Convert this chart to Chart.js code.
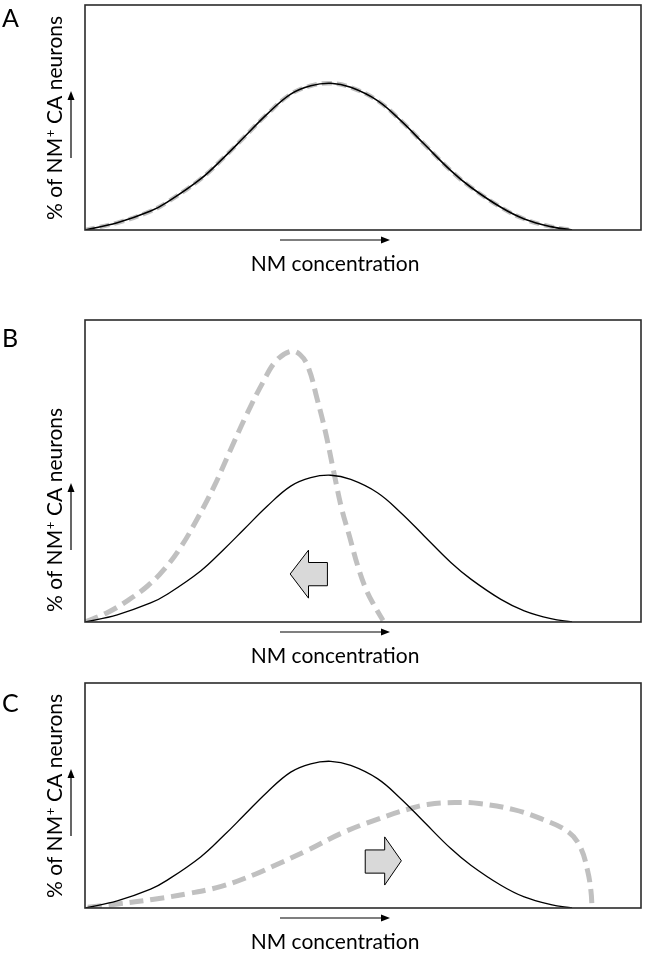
<!DOCTYPE html>
<html>
<head>
<meta charset="utf-8">
<script src="https://cdn.jsdelivr.net/npm/chart.js@4.4.1/dist/chart.umd.min.js"></script>
<style>
  body { margin: 0; background: #fff; }
  canvas { position: absolute; left: 0; }
</style>
</head>
<body>
<canvas id="panelA" width="646" height="290" style="top:0px"></canvas>
<canvas id="panelB" width="646" height="380" style="top:290px"></canvas>
<canvas id="panelC" width="646" height="285" style="top:670px"></canvas>
<script>
// x = NM concentration (0-100 across the box), y = % of neurons (0-100 of box height)

// normal distribution (solid black), panels A and C
const controlX = [0, 5.8, 11.8, 14.8, 20.8, 25.0, 28.6, 32.8, 37.0, 40.6, 44.2, 47.8, 52.6, 56.8, 61.0, 65.8, 69.4, 74.8, 79.0, 83.8, 87.6];
const controlA = [0, 3.2, 8.4, 12.4, 22.7, 32.3, 41.2, 51.6, 60.4, 64.1, 65.2, 63.4, 57.5, 48.6, 38.2, 26.4, 19.0, 10.1, 4.9, 1.5, 0];
const controlB = [0, 2.4, 6.3, 9.2, 16.9, 24.1, 30.7, 38.4, 45.0, 47.8, 48.6, 47.2, 42.8, 36.2, 28.5, 19.7, 14.2, 7.5, 3.7, 1.1, 0];
const controlC = [0, 3.2, 8.4, 12.4, 22.7, 32.3, 41.2, 51.6, 60.4, 64.1, 65.2, 63.4, 57.5, 48.6, 38.2, 26.4, 19.0, 10.1, 4.9, 1.5, 0];

// dashed grey curves
const shiftedAX = controlX;
const shiftedA = controlA;
const shiftedBX = [0, 3.9, 7.6, 11.3, 14.3, 17.3, 20.2, 23.2, 26.1, 29.1, 32.1, 34.3, 36.9, 38.7, 40.2, 41.7, 43.2, 44.7, 46.1, 47.6, 49.1, 50.6, 52.1, 53.6];
const shiftedB = [0, 3.0, 7.0, 12.0, 17.6, 25.0, 34.2, 44.8, 56.7, 68.8, 79.7, 86.3, 89.6, 88.5, 84.1, 74.2, 63.3, 50.1, 38.0, 28.2, 18.3, 10.6, 5.2, 0.5];
const shiftedCX = [0.5, 5.9, 12.1, 18.3, 24.5, 30.6, 33.7, 39.9, 46.1, 52.3, 58.5, 61.6, 66.5, 70.9, 77.1, 82.0, 87.0, 89.1, 90.4, 91.0, 91.2];
const shiftedC = [0.3, 1.8, 3.8, 6.3, 9.6, 15.0, 18.4, 25.5, 33.2, 39.2, 44.2, 46.0, 46.9, 46.4, 43.7, 39.7, 33.7, 27.0, 16.5, 7.5, 0];

const xTitle = 'NM concentration';
const FONT = 'Lato, "Open Sans", sans-serif';

function toPoints(xs, ys) {
    return xs.map((x, i) => ({ x: x, y: ys[i] }));
}

// thin arrow with a small filled head
function thinArrow(ctx, x1, y1, x2, y2) {
    const ang = Math.atan2(y2 - y1, x2 - x1);
    const len = 9, half = 3.5;
    ctx.beginPath();
    ctx.moveTo(x1, y1);
    ctx.lineTo(x2 - len * Math.cos(ang), y2 - len * Math.sin(ang));
    ctx.lineWidth = 1.2;
    ctx.strokeStyle = '#000';
    ctx.stroke();
    ctx.beginPath();
    ctx.moveTo(x2, y2);
    ctx.lineTo(x2 - len * Math.cos(ang) + half * Math.sin(ang), y2 - len * Math.sin(ang) - half * Math.cos(ang));
    ctx.lineTo(x2 - len * Math.cos(ang) - half * Math.sin(ang), y2 - len * Math.sin(ang) + half * Math.cos(ang));
    ctx.closePath();
    ctx.fillStyle = '#000';
    ctx.fill();
}

const decor = {
    id: 'decor',
    afterDraw(chart, args, opts) {
        const { ctx, chartArea: a, scales: { x, y } } = chart;
        ctx.save();

        // block arrow showing the shift
        if (opts.shift) {
            const s = opts.shift;
            const px = v => x.getPixelForValue(v);
            const py = v => y.getPixelForValue(v);
            ctx.beginPath();
            ctx.moveTo(px(s.tip), py(s.mid));
            ctx.lineTo(px(s.head), py(s.headTop));
            ctx.lineTo(px(s.head), py(s.shaftTop));
            ctx.lineTo(px(s.tail), py(s.shaftTop));
            ctx.lineTo(px(s.tail), py(s.shaftBottom));
            ctx.lineTo(px(s.head), py(s.shaftBottom));
            ctx.lineTo(px(s.head), py(s.headBottom));
            ctx.closePath();
            ctx.fillStyle = '#d9d9d9';
            ctx.fill();
            ctx.lineWidth = 1;
            ctx.strokeStyle = '#000';
            ctx.stroke();
        }

        // frame
        ctx.lineWidth = 1.6;
        ctx.strokeStyle = '#2b2b2b';
        ctx.strokeRect(a.left, a.top, a.right - a.left, a.bottom - a.top);

        // axis arrows
        thinArrow(ctx, 280, a.bottom + 10, 390, a.bottom + 10);
        thinArrow(ctx, 71, a.bottom - 72, 71, a.bottom - 139);

        // x title
        ctx.fillStyle = '#000';
        ctx.font = '21px ' + FONT;
        ctx.textAlign = 'center';
        ctx.textBaseline = 'alphabetic';
        ctx.fillText(xTitle, 335, a.bottom + 41);

        // y title, rotated, with superscript +
        ctx.save();
        ctx.translate(62, a.bottom - 10);
        ctx.rotate(-Math.PI / 2);
        ctx.textAlign = 'left';
        let cx = 0;
        ctx.fillText('% of NM', cx, 0);
        cx += ctx.measureText('% of NM').width;
        ctx.font = '13px ' + FONT;
        ctx.fillText('+', cx + 0.5, -7);
        cx += ctx.measureText('+').width + 1;
        ctx.font = '21px ' + FONT;
        ctx.fillText(' CA neurons', cx, 0);
        ctx.restore();

        // panel letter
        ctx.font = '25px ' + FONT;
        ctx.textAlign = 'left';
        ctx.fillText(opts.letter, 2, a.top + opts.letterY);
        ctx.restore();
    }
};

function makePanel(id, p) {
    const ctx = document.getElementById(id).getContext('2d');
    return new Chart(ctx, {
        type: 'line',
        data: {
            datasets: [{
                label: 'control',
                data: toPoints(controlX, p.control),
                borderColor: '#000',
                borderWidth: p.blackWidth,
                order: 0
            }, {
                label: 'shifted',
                data: toPoints(p.shiftedX, p.shifted),
                borderColor: '#c0c0c0',
                borderWidth: p.greyWidth,
                borderDash: p.dash,
                order: 1
            }]
        },
        options: {
            responsive: false,
            animation: false,
            layout: { padding: p.padding },
            elements: {
                point: { radius: 0 },
                line: { tension: 0.4, fill: false }
            },
            scales: {
                x: { type: 'linear', min: 0, max: 100, display: false },
                y: { min: 0, max: 100, display: false }
            },
            plugins: {
                legend: { display: false },
                tooltip: { enabled: false },
                decor: { letter: p.letter, letterY: p.letterY, shift: p.shift }
            }
        },
        plugins: [decor]
    });
}

makePanel('panelA', {
    letter: 'A', letterY: 22,
    padding: { left: 85, top: 5, right: 5, bottom: 60 },
    control: controlA, shiftedX: shiftedAX, shifted: shiftedA,
    blackWidth: 1.6, greyWidth: 4.5, dash: [10, 5]
});

makePanel('panelB', {
    letter: 'B', letterY: 27,
    padding: { left: 85, top: 30, right: 5, bottom: 48 },
    control: controlB, shiftedX: shiftedBX, shifted: shiftedB,
    blackWidth: 1.3, greyWidth: 5, dash: [14, 7],
    shift: { tip: 36.9, head: 40.2, tail: 43.6, mid: 15.9, headTop: 23.8, headBottom: 7.9, shaftTop: 19.7, shaftBottom: 12.0 }
});

makePanel('panelC', {
    letter: 'C', letterY: 29,
    padding: { left: 85, top: 13, right: 5, bottom: 47 },
    control: controlC, shiftedX: shiftedCX, shifted: shiftedC,
    blackWidth: 1.3, greyWidth: 5, dash: [14, 7],
    shift: { tip: 56.9, head: 53.9, tail: 50.4, mid: 21.0, headTop: 31.6, headBottom: 10.2, shaftTop: 25.8, shaftBottom: 15.5 }
});
</script>
</body>
</html>
